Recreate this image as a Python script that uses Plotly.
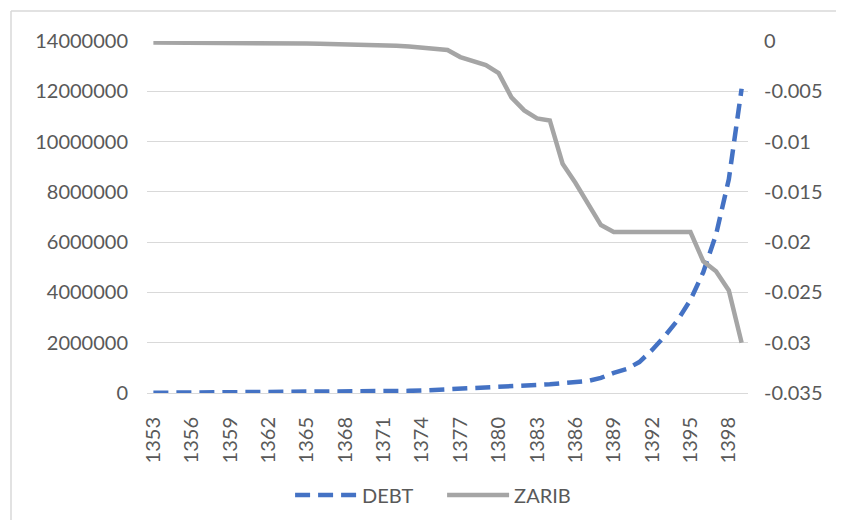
import plotly.graph_objects as go

# years (Iranian calendar)
years = list(range(1353, 1400))

# DEBT (left axis)
debt = [10000, 12000, 14000, 16000, 18000, 20000, 22000, 25000, 28000, 31000,
        34000, 37000, 41000, 45000, 49000, 53000, 56000, 58000, 65000, 75000,
        85000, 100000, 120000, 150000, 180000, 200000, 220000, 250000, 270000, 300000,
        320000, 350000, 380000, 420000, 480000, 600000, 800000, 950000, 1230000, 1710000,
        2270000, 2900000, 3700000, 4800000, 6300000, 8500000, 12100000]

# ZARIB (right axis)
zarib = [-0.00015, -0.00015, -0.00015, -0.00015, -0.00015, -0.00016, -0.00017, -0.00018, -0.0002, -0.0002,
         -0.00022, -0.00024, -0.00026, -0.00028, -0.0003, -0.00033, -0.00036, -0.0004, -0.00043, -0.00047,
         -0.00055, -0.00065, -0.00075, -0.0009, -0.0016, -0.002, -0.0024, -0.0032, -0.0056, -0.0069,
         -0.0077, -0.0079, -0.0122, -0.0141, -0.0161, -0.0183, -0.019, -0.019, -0.019, -0.019,
         -0.019, -0.019, -0.019, -0.0219, -0.0229, -0.0248, -0.030]

x_ticks = list(range(1353, 1399, 3))
left_ticks = [0, 2000000, 4000000, 6000000, 8000000, 10000000, 12000000, 14000000]
left_text = ["0", "2000000", "4000000", "6000000", "8000000", "10000000", "12000000", "14000000"]
right_ticks = [0, -0.005, -0.01, -0.015, -0.02, -0.025, -0.03, -0.035]
right_text = ["0", "-0.005", "-0.01", "-0.015", "-0.02", "-0.025", "-0.03", "-0.035"]

font = dict(family="Lato, Open Sans, sans-serif", size=20, color="#595959")

fig = go.Figure()
fig.add_trace(go.Scatter(x=years, y=debt, name="DEBT", mode="lines",
                         line=dict(color="#4472C4", width=4.5, dash="15px,8px")))
fig.add_trace(go.Scatter(x=years, y=zarib, name="ZARIB", mode="lines", yaxis="y2",
                         line=dict(color="#A5A5A5", width=4.5)))

# chart border: only the left and top edges are visible
bx = (3 - 139) / 601
by = 1 + 30 / 352
border = dict(color="#D9D9D9", width=1.5)

# page body has an 8px margin, keep the figure inside the window (no scrollbars)
fig.update_layout(
    width=828, height=512,
    margin=dict(l=139, r=88, t=33, b=127, autoexpand=False),
    paper_bgcolor="white", plot_bgcolor="white",
    font=font,
    showlegend=True,
    legend=dict(orientation="h", x=0.491, xanchor="center", y=-0.29, yanchor="middle",
                font=font, itemwidth=62, entrywidth=75, traceorder="normal"),
    xaxis=dict(range=[1352.5, 1399.5], tickvals=x_ticks, tickangle=-90,
               showgrid=False, zeroline=False, showline=True, linecolor="#D9D9D9",
               ticks="", ticklabelstandoff=15),
    yaxis=dict(range=[0, 14000000], tickvals=left_ticks, ticktext=left_text,
               showgrid=True, gridcolor="#D9D9D9", zeroline=False, ticks="",
               ticklabelstandoff=18),
    yaxis2=dict(range=[-0.035, 0], tickvals=right_ticks, ticktext=right_text,
                overlaying="y", side="right", showgrid=False, zeroline=False, ticks="",
                ticklabelstandoff=15),
    shapes=[
        dict(type="line", xref="paper", yref="paper", x0=bx, x1=bx, y0=-0.6, y1=by,
             line=border, layer="below"),
        dict(type="line", xref="paper", yref="paper", x0=bx, x1=1.4, y0=by, y1=by,
             line=border, layer="below"),
    ],
)

fig.write_html("out.html")
